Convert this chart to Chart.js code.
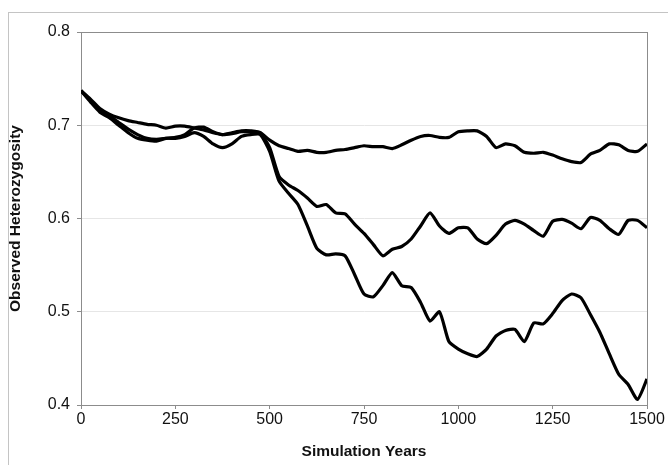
<!DOCTYPE html>
<html>
<head>
<meta charset="utf-8">
<script src="https://cdn.jsdelivr.net/npm/chart.js@4.4.0/dist/chart.umd.min.js"></script>
<style>
  html, body { margin: 0; padding: 0; background: #fff; }
  #wrap { width: 668px; height: 465px; }
</style>
</head>
<body>
<div id="wrap"><canvas id="mycanvas" width="668" height="465"></canvas></div>
<script>
var years = [0, 25, 50, 75, 100, 125, 150, 175, 200, 225, 250, 275, 300, 325, 350, 375, 400, 425, 450, 475,
    500, 525, 550, 575, 600, 625, 650, 675, 700, 725, 750, 775, 800, 825, 850, 875, 900, 925, 950, 975,
    1000, 1025, 1050, 1075, 1100, 1125, 1150, 1175, 1200, 1225, 1250, 1275, 1300, 1325, 1350, 1375, 1400, 1425, 1450, 1475, 1500];

var runTop = [0.737, 0.728, 0.718, 0.712, 0.708, 0.705, 0.703, 0.701, 0.700, 0.697, 0.699, 0.699, 0.697, 0.695, 0.692, 0.690, 0.691, 0.693, 0.693, 0.692,
    0.684, 0.678, 0.675, 0.672, 0.673, 0.671, 0.671, 0.673, 0.674, 0.676, 0.678, 0.677, 0.677, 0.675, 0.679, 0.684, 0.688, 0.689, 0.687, 0.687,
    0.693, 0.694, 0.694, 0.688, 0.676, 0.680, 0.678, 0.671, 0.670, 0.671, 0.668, 0.664, 0.661, 0.660, 0.669, 0.673, 0.680, 0.679, 0.673, 0.672, 0.680];

var runMiddle = [0.737, 0.727, 0.716, 0.710, 0.703, 0.696, 0.690, 0.686, 0.685, 0.686, 0.687, 0.690, 0.697, 0.698, 0.693, 0.690, 0.692, 0.694, 0.694, 0.692,
    0.676, 0.645, 0.636, 0.630, 0.622, 0.613, 0.615, 0.606, 0.605, 0.594, 0.584, 0.572, 0.560, 0.567, 0.570, 0.578, 0.592, 0.606, 0.592, 0.584,
    0.590, 0.590, 0.578, 0.573, 0.582, 0.594, 0.598, 0.594, 0.587, 0.581, 0.597, 0.599, 0.595, 0.589, 0.601, 0.598, 0.589, 0.583, 0.598, 0.598, 0.590];

var runBottom = [0.737, 0.725, 0.714, 0.708, 0.700, 0.692, 0.686, 0.684, 0.683, 0.686, 0.686, 0.688, 0.692, 0.688, 0.680, 0.676, 0.680, 0.688, 0.690, 0.690,
    0.672, 0.640, 0.627, 0.615, 0.592, 0.568, 0.561, 0.562, 0.560, 0.540, 0.519, 0.516, 0.528, 0.542, 0.528, 0.526, 0.510, 0.490, 0.500, 0.468,
    0.460, 0.455, 0.452, 0.460, 0.474, 0.480, 0.481, 0.468, 0.488, 0.487, 0.498, 0.512, 0.519, 0.515, 0.497, 0.478, 0.455, 0.433, 0.422, 0.406, 0.428];

var xTicks = [0, 250, 500, 750, 1000, 1250, 1500];
var yTicks = [0.4, 0.5, 0.6, 0.7, 0.8];

function toPoints(values) {
    var pts = [];
    for (var i in years) {
        pts.push({ x: years[i], y: values[i] });
    }
    return pts;
}

function lineSet(label, values) {
    return {
        label: label,
        data: toPoints(values),
        borderColor: '#000',
        borderWidth: 3.2,
        pointRadius: 0,
        tension: 0.2,
        fill: false
    };
}

// outer light frame and the grey box round the plot area
var framePlugin = {
    id: 'frames',
    beforeDraw: function(chart) {
        var c = chart.ctx;
        c.save();
        c.strokeStyle = '#c4c4c4';
        c.lineWidth = 1;
        c.strokeRect(8.5, 12.5, 700, 500);
        c.restore();
    },
    beforeDatasetsDraw: function(chart) {
        var a = chart.chartArea;
        var c = chart.ctx;
        c.save();
        c.strokeStyle = '#8c8c8c';
        c.lineWidth = 1;
        c.strokeRect(Math.round(a.left) + 0.5, Math.round(a.top) + 0.5, Math.round(a.right - a.left), Math.round(a.bottom - a.top));
        c.restore();
    }
};

var ctx = document.getElementById('mycanvas');
var lineGraph = new Chart(ctx, {
    type: 'line',
    data: {
        datasets: [
            lineSet('Run 1', runTop),
            lineSet('Run 2', runMiddle),
            lineSet('Run 3', runBottom)
        ]
    },
    plugins: [framePlugin],
    options: {
        responsive: false,
        animation: false,
        events: [],
        layout: { padding: { left: 2, right: 21, top: 32, bottom: 0 } },
        plugins: {
            legend: { display: false },
            tooltip: { enabled: false }
        },
        scales: {
            x: {
                type: 'linear',
                min: 0,
                max: 1500,
                afterBuildTicks: function(scale) {
                    scale.ticks = xTicks.map(function(v) { return { value: v }; });
                },
                afterFit: function(scale) { scale.height = 60; },
                grid: { drawOnChartArea: false, drawTicks: true, tickLength: 4, tickColor: '#8c8c8c' },
                border: { display: true, color: '#8c8c8c', width: 1 },
                ticks: {
                    color: '#111',
                    padding: 1,
                    maxRotation: 0,
                    font: { family: 'Liberation Sans', size: 16 },
                    callback: function(v) { return String(v); }
                },
                title: {
                    display: true,
                    text: 'Simulation Years',
                    color: '#111',
                    font: { family: 'Liberation Sans', size: 15.5, weight: 'bold' }
                }
            },
            y: {
                min: 0.4,
                max: 0.8,
                afterBuildTicks: function(scale) {
                    scale.ticks = yTicks.map(function(v) { return { value: v }; });
                },
                afterFit: function(scale) { scale.width = 79; },
                grid: { color: '#e6e6e6', tickLength: 4, tickColor: '#8c8c8c' },
                border: { display: true, color: '#8c8c8c', width: 1 },
                ticks: {
                    color: '#111',
                    padding: 7,
                    font: { family: 'Liberation Sans', size: 16 },
                    callback: function(v) { return v.toFixed(1); }
                },
                title: {
                    display: true,
                    text: 'Observed Heterozygosity',
                    color: '#111',
                    font: { family: 'Liberation Sans', size: 15.5, weight: 'bold' }
                }
            }
        }
    }
});
</script>
</body>
</html>
